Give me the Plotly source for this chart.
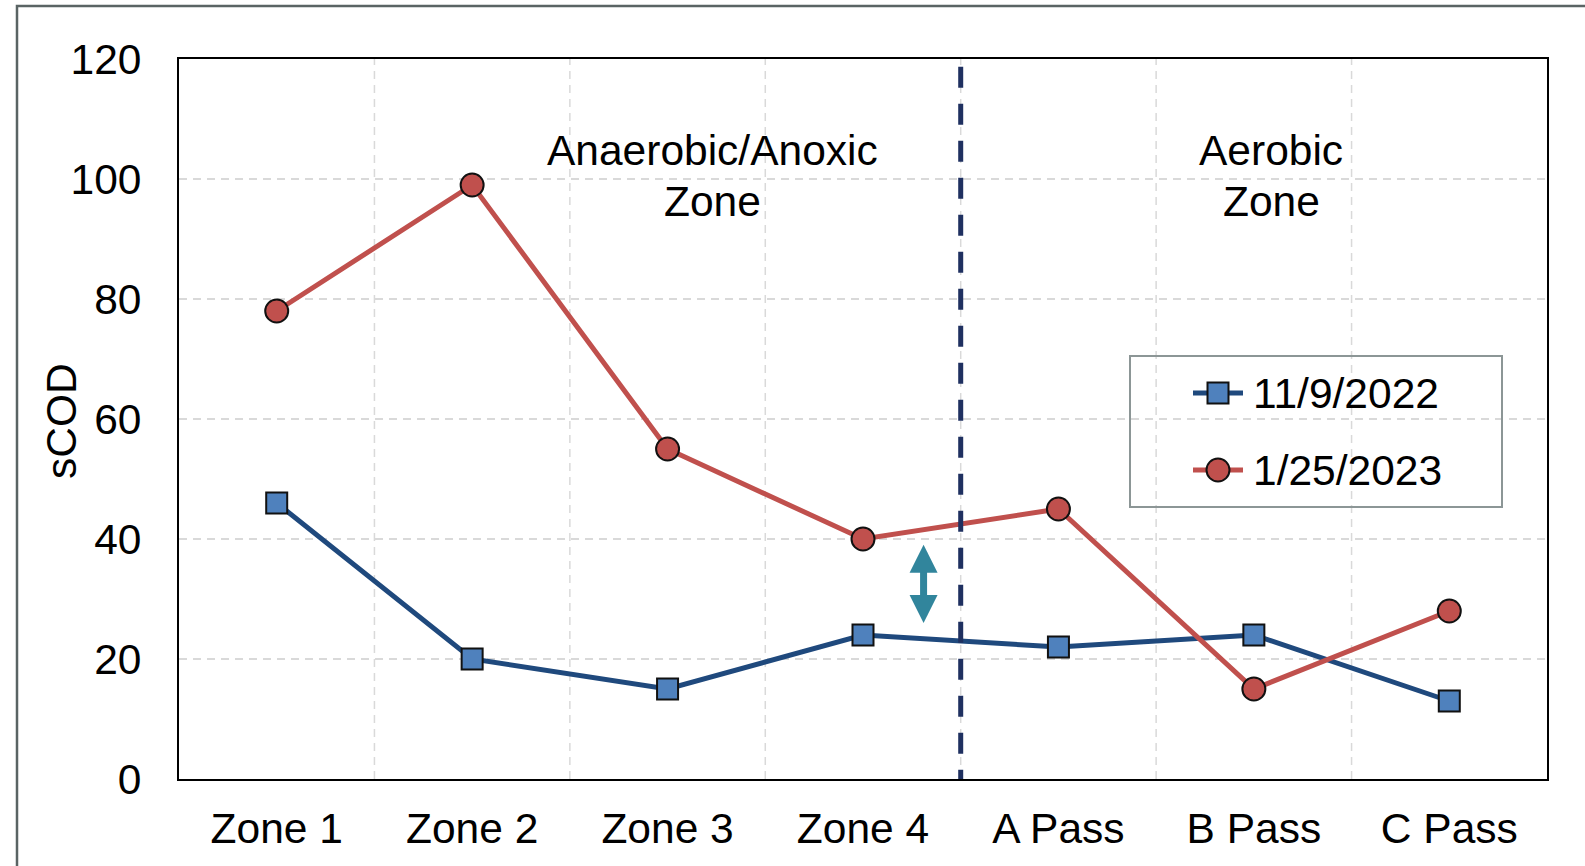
import plotly.graph_objects as go

categories = ["Zone 1", "Zone 2", "Zone 3", "Zone 4", "A Pass", "B Pass", "C Pass"]
series_2022 = [46, 20, 15, 24, 22, 24, 13]
series_2023 = [78, 99, 55, 40, 45, 15, 28]
series_names = ["11/9/2022", "1/25/2023"]
y_ticks = [0, 20, 40, 60, 80, 100, 120]
zone_labels = [("Anaerobic/Anoxic", "Zone"), ("Aerobic", "Zone")]

FONT = "Arial, Liberation Sans, sans-serif"
FS = 42.5

# pixel geometry of the plot area
PL, PR, PT, PB = 179, 1547, 59, 779
PW, PH = PR - PL, PB - PT


def px(xp):
    return (xp - PL) / PW


def py(yp):
    return (PB - yp) / PH


xi = list(range(len(categories)))

styles = [
    dict(line=dict(color="#1f497d", width=5),
         marker=dict(symbol="square", size=21, color="#4f81bd", line=dict(color="#111111", width=2))),
    dict(line=dict(color="#c0504d", width=5),
         marker=dict(symbol="circle", size=23, color="#c0504d", line=dict(color="#111111", width=2))),
]

fig = go.Figure()
for name, vals, st in zip(series_names, [series_2022, series_2023], styles):
    fig.add_trace(go.Scatter(x=xi, y=vals, name=name, mode="lines+markers",
                             line=st["line"], marker=st["marker"], showlegend=False,
                             xaxis="x", yaxis="y"))

# legend drawn in a small inset subplot (pixel units inside the legend box)
LX0, LX1, LY0, LY1 = 1131, 1501, 357, 506
rows_y = [36, 113]
for name, st, ry in zip(series_names, styles, rows_y):
    fig.add_trace(go.Scatter(x=[62, 112], y=[ry, ry], mode="lines", line=st["line"],
                             showlegend=False, hoverinfo="skip", xaxis="x2", yaxis="y2"))
    fig.add_trace(go.Scatter(x=[87], y=[ry], mode="markers", marker=st["marker"],
                             showlegend=False, hoverinfo="skip", xaxis="x2", yaxis="y2"))
    fig.add_annotation(x=120, y=ry, xref="x2", yref="y2", text=name, showarrow=False,
                       xanchor="left", yanchor="middle",
                       font=dict(family=FONT, size=FS, color="black"))

# vertical gridlines at category boundaries
for b in [i + 0.5 for i in range(len(categories) - 1)]:
    fig.add_shape(type="line", x0=b, x1=b, y0=0, y1=120, xref="x", yref="y",
                  line=dict(color="#d9d9d9", width=1.5, dash="8px,6px"), layer="below")

# separator dashed line between zone 4 and A pass
fig.add_shape(type="line", x0=3.5, x1=3.5, y0=118.7, y1=-3, xref="x", yref="y",
              line=dict(color="#1f3060", width=5, dash="21px,16px"), layer="above")

# outer frame
fig.add_shape(type="rect", xref="paper", yref="paper",
              x0=px(17), x1=1.2, y0=-0.3, y1=py(6),
              line=dict(color="#5a6464", width=2.5), layer="below")

# double-headed arrow
fig.add_annotation(x=3.31, y=26, ax=3.31, ay=39.3, xref="x", yref="y", axref="x", ayref="y",
                   showarrow=True, arrowside="end+start", arrowhead=2, startarrowhead=2,
                   arrowsize=0.8, startarrowsize=0.8, arrowwidth=7, arrowcolor="#31859c", text="")

# zone annotations
for (l1, l2), xc in zip(zone_labels, [2.23, 5.09]):
    fig.add_annotation(x=xc, y=104.8, xref="x", yref="y", text=l1, showarrow=False,
                       font=dict(family=FONT, size=FS, color="black"))
    fig.add_annotation(x=xc, y=96.3, xref="x", yref="y", text=l2, showarrow=False,
                       font=dict(family=FONT, size=FS, color="black"))

# y axis title
fig.add_annotation(x=px(61), y=py(421), xref="paper", yref="paper", text="sCOD",
                   textangle=-90, showarrow=False, xanchor="center", yanchor="middle",
                   font=dict(family=FONT, size=FS, color="black"))

fig.update_layout(
    width=1585, height=866,
    margin=dict(l=PL, r=1585 - PR, t=PT, b=866 - PB),
    paper_bgcolor="white", plot_bgcolor="rgba(0,0,0,0)",
    font=dict(family=FONT, size=FS, color="black"),
    showlegend=False,
    xaxis=dict(
        range=[-0.5, 6.5], tickmode="array", tickvals=xi, ticktext=categories,
        showgrid=False, zeroline=False, showline=True, mirror=True,
        linecolor="black", linewidth=2, ticks="", ticklabelstandoff=11,
    ),
    yaxis=dict(
        range=[0, 120], tickmode="array", tickvals=y_ticks,
        showgrid=True, gridcolor="#d9d9d9", griddash="8px,6px", gridwidth=1.5,
        zeroline=False, showline=True, mirror=True, linecolor="black", linewidth=2,
        ticks="", ticklabelstandoff=27,
    ),
    xaxis2=dict(domain=[px(LX0), px(LX1)], range=[0, LX1 - LX0], anchor="y2",
                showgrid=False, zeroline=False, showticklabels=False, ticks="",
                showline=True, mirror=True, linecolor="#8c9696", linewidth=1.5),
    yaxis2=dict(domain=[py(LY1), py(LY0)], range=[LY1 - LY0, 0], anchor="x2",
                showgrid=False, zeroline=False, showticklabels=False, ticks="",
                showline=True, mirror=True, linecolor="#8c9696", linewidth=1.5),
)

fig.write_html("out.html")
